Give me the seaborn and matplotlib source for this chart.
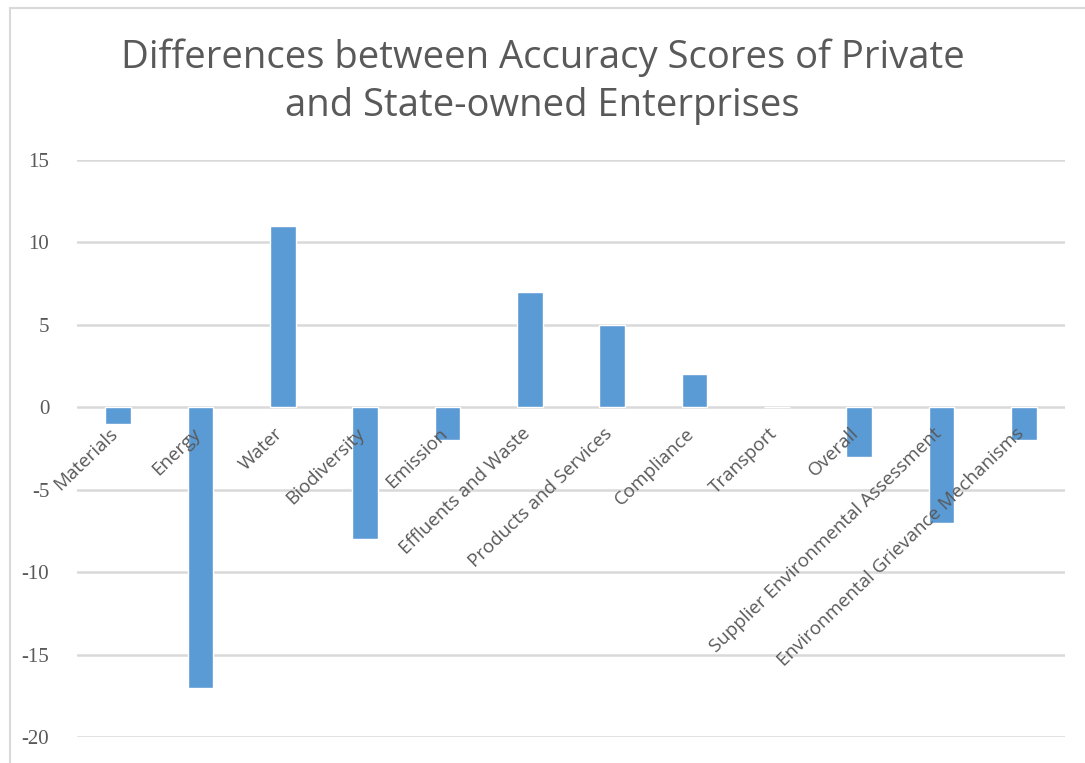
import matplotlib
matplotlib.use("Agg")
import matplotlib.pyplot as plt
import matplotlib.transforms as mtransforms
from matplotlib.lines import Line2D
import seaborn as sns
import pandas as pd

categories = ["Materials", "Energy", "Water", "Biodiversity", "Emission",
              "Effluents and Waste", "Products and Services", "Compliance",
              "Transport", "Overall", "Supplier Environmental Assessment",
              "Environmental Grievance Mechanisms"]
values = [-1, -17, 11, -8, -2, 7, 5, 2, 0, -3, -7, -2]
yticks = [15, 10, 5, 0, -5, -10, -15, -20]
title = "Differences between Accuracy Scores of Private\nand State-owned Enterprises"

sns.set_theme(style="white")
plt.rcParams['font.family'] = ['Open Sans', 'DejaVu Sans']

W, H = 1085, 763
fig = plt.figure(figsize=(W / 100, H / 100), dpi=100)
fig.patch.set_facecolor("white")
ax = fig.add_axes([77 / W, 1 - 737 / H, (1065 - 77) / W, (737 - 160) / H])

df = pd.DataFrame({"cat": categories, "val": values})
sns.barplot(data=df, x="cat", y="val", color="#5b9bd5", saturation=1,
            width=0.31, ax=ax, zorder=3)

ax.set_xlim(-0.5, len(categories) - 0.5)
ax.set_ylim(-20, 15)
ax.set_yticks(yticks)
ax.set_yticklabels([str(t) for t in yticks], fontfamily="Liberation Serif",
                   fontsize=15, color="#595959")
ax.tick_params(axis="y", length=0, pad=20)
ax.set_xticks([])
ax.set_xlabel("")
ax.set_ylabel("")
for s in ax.spines.values():
    s.set_visible(False)
ax.yaxis.grid(True, color="#d9d9d9", linewidth=1.8, zorder=0)
ax.set_axisbelow(True)

offset = mtransforms.ScaledTranslation(-9 / 100, -17 / 100, fig.dpi_scale_trans)
for i, c in enumerate(categories):
    ax.text(i, 0, c, rotation=44, ha="right", va="top", rotation_mode="anchor",
            fontsize=13.5, color="#595959", transform=ax.transData + offset,
            zorder=5)

fig.text(0.5, 1 - 82 / H, title, ha="center", va="center", fontsize=27.5,
         color="#595959", linespacing=1.35)

# chart frame
fig.add_artist(Line2D([10 / W, 10 / W], [0, 1 - 8 / H], color="#d9d9d9", lw=1.5))
fig.add_artist(Line2D([10 / W, 1], [1 - 8 / H, 1 - 8 / H], color="#d9d9d9", lw=1.5))

fig.savefig("out.png", dpi=100, facecolor="white")
